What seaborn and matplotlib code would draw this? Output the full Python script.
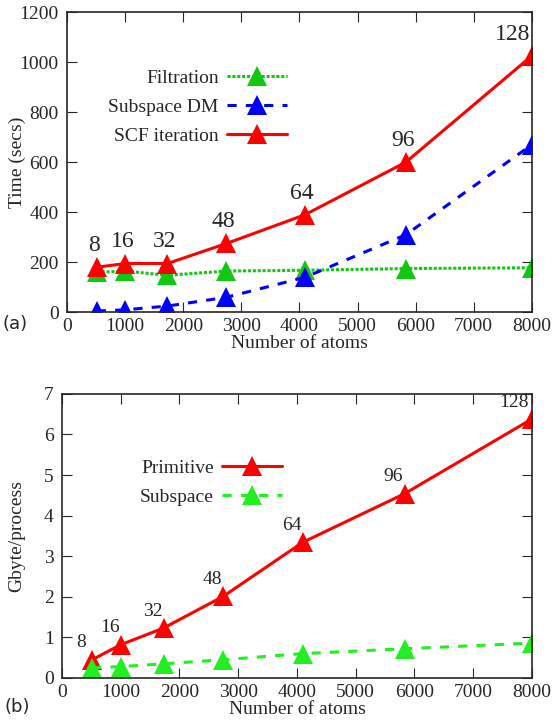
import pandas as pd
import matplotlib
matplotlib.use("Agg")
import matplotlib.pyplot as plt
import seaborn as sns

# data
atoms = [512, 1000, 1728, 2744, 4096, 5832, 8000]
procs = ["8", "16", "32", "48", "64", "96", "128"]
filtration = [160, 165, 148, 165, 168, 175, 178]
subspace_dm = [5, 10, 25, 60, 140, 310, 670]
scf_iter = [180, 195, 195, 275, 390, 600, 1025]
mem_primitive = [0.45, 0.82, 1.23, 2.01, 3.34, 4.54, 6.38]
mem_subspace = [0.25, 0.28, 0.35, 0.45, 0.6, 0.72, 0.86]

sns.set_style("ticks")
plt.rcParams['font.family'] = ['Liberation Serif', 'DejaVu Serif']
plt.rcParams['font.size'] = 14
plt.rcParams['xtick.direction'] = 'in'
plt.rcParams['ytick.direction'] = 'in'
plt.rcParams['xtick.top'] = True
plt.rcParams['ytick.right'] = True
plt.rcParams['xtick.major.size'] = 7
plt.rcParams['ytick.major.size'] = 7
plt.rcParams['xtick.major.pad'] = 4
plt.rcParams['ytick.major.pad'] = 6
plt.rcParams['xtick.labelsize'] = 14
plt.rcParams['ytick.labelsize'] = 14

time_df = pd.DataFrame({"atoms": atoms, "Filtration": filtration,
                        "Subspace DM": subspace_dm, "SCF iteration": scf_iter})
mem_df = pd.DataFrame({"atoms": atoms, "Primitive": mem_primitive,
                       "Subspace": mem_subspace})

fig = plt.figure(figsize=(5.54, 7.28), dpi=100)
ax1 = fig.add_axes([0.121, 0.571, 0.839, 0.4125])
ax2 = fig.add_axes([0.112, 0.0687, 0.848, 0.3903])

mk = dict(marker="^", markersize=14, markeredgewidth=0)

# (a) timing
sns.lineplot(data=time_df, x="atoms", y="Filtration", ax=ax1, color="#10c810",
             linestyle=(0, (1, 0.6)), lw=2.2, label="Filtration", **mk)
sns.lineplot(data=time_df, x="atoms", y="Subspace DM", ax=ax1, color="#0000ff",
             linestyle=(0, (3, 3)), lw=2.2, label="Subspace DM", **mk)
sns.lineplot(data=time_df, x="atoms", y="SCF iteration", ax=ax1, color="#ff0000",
             linestyle="-", lw=2.2, label="SCF iteration", **mk)
ax1.set_xlim(0, 8000)
ax1.set_ylim(0, 1200)
ax1.set_xticks(range(0, 8001, 1000))
ax1.set_yticks(range(0, 1201, 200))
ax1.set_xlabel("Number of atoms", labelpad=0)
ax1.set_ylabel("Time (secs)")
ax1.yaxis.set_label_coords(-0.088, 0.5)
for i, (x, y, p) in enumerate(zip(atoms, scf_iter, procs)):
    dx = -14 if i == len(atoms) - 1 else -2
    ax1.annotate(p, (x, y), xytext=(dx, 8), textcoords="offset points",
                 ha="center", va="bottom", fontsize=17)
leg1 = ax1.legend(loc="upper right", bbox_to_anchor=(0.473, 0.81), markerfirst=False,
                  frameon=False, handlelength=3.1, borderaxespad=0, borderpad=0,
                  labelspacing=0.6, handletextpad=0.4, fontsize=14)

# (b) memory
sns.lineplot(data=mem_df, x="atoms", y="Primitive", ax=ax2, color="#ff0000",
             linestyle="-", lw=2.2, label="Primitive", **mk)
sns.lineplot(data=mem_df, x="atoms", y="Subspace", ax=ax2, color="#22ee22",
             linestyle=(0, (3, 3)), lw=2.2, label="Subspace", **mk)
ax2.set_xlim(0, 8000)
ax2.set_ylim(0, 7)
ax2.set_xticks(range(0, 8001, 1000))
ax2.set_yticks(range(0, 8))
ax2.set_xlabel("Number of atoms", labelpad=0)
ax2.set_ylabel("Gbyte/process")
ax2.yaxis.set_label_coords(-0.078, 0.5)
for i, (x, y, p) in enumerate(zip(atoms, mem_primitive, procs)):
    dx = -13 if i == len(atoms) - 1 else -8
    ax2.annotate(p, (x, y), xytext=(dx, 6), textcoords="offset points",
                 ha="center", va="bottom", fontsize=14)
leg2 = ax2.legend(loc="upper right", bbox_to_anchor=(0.468, 0.77), markerfirst=False,
                  frameon=False, handlelength=3.1, borderaxespad=0, borderpad=0,
                  labelspacing=0.6, handletextpad=0.4, fontsize=14)

for ax in (ax1, ax2):
    for s in ax.spines.values():
        s.set_linewidth(1.2)
        s.set_visible(True)

fig.text(0.004, 0.548, "(a)", family=['DejaVu Sans'], fontsize=13)
fig.text(0.009, 0.022, "(b)", family=['DejaVu Sans'], fontsize=13)

fig.savefig("out.png", dpi=100)
